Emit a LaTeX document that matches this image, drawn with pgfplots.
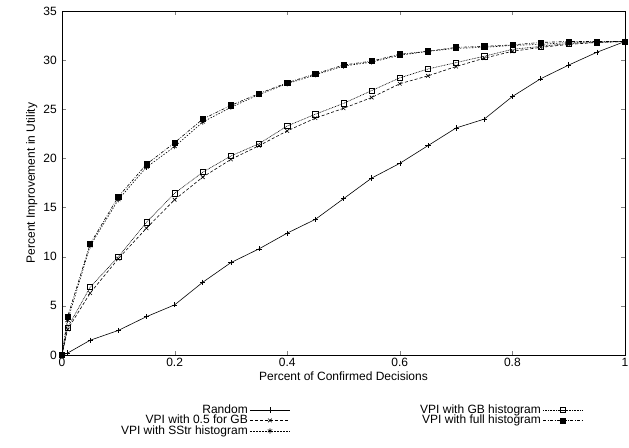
\documentclass[border=0pt]{standalone}
\usepackage{fontspec}
\setmainfont{Liberation Sans}
\usepackage{pgfplots}
\pgfplotsset{compat=1.18}
\usetikzlibrary{plotmarks}
\begin{document}
\fontsize{12}{14}\selectfont
\begin{tikzpicture}
\path[use as bounding box] (-62pt,-92pt) rectangle (567pt,355pt);
\begin{axis}[
  at={(0,0)}, anchor=south west,
  scale only axis, width=563pt, height=344pt,
  xmin=0, xmax=1, ymin=0, ymax=35,
  xtick={0,0.2,0.4,0.6,0.8,1},
  ytick={0,5,...,35},
  tick align=inside,
  major tick length=4pt,
  minor tick num=0,
  axis line style={line width=0.8pt},
  /pgf/number format/assume math mode=true,
  tick label style={font=\fontsize{12}{14}\selectfont},
  label style={font=\fontsize{12}{14}\selectfont},
  xticklabel style={yshift=1pt},
  yticklabel style={xshift=-1pt},
  xlabel={Percent of Confirmed Decisions},
  ylabel={Percent Improvement in Utility},
  xlabel style={yshift=3pt},
  ylabel style={yshift=-2pt},
  every axis plot/.append style={line width=0.6pt, black},
  legend columns=2,
  legend plot pos=right,
  legend cell align=right,
  legend style={draw=none, fill=none, at={(0.101,-0.138)}, anchor=north west,
    inner sep=0pt,
    font=\fontsize{12}{14}\selectfont,
    row sep=-4pt,
    /tikz/every even column/.append style={column sep=128pt},
    cells={anchor=east}},
  legend image code/.code={%
    \draw[mark repeat=2,mark phase=2] plot coordinates {(0cm,0cm) (0.7cm,0cm) (1.4cm,0cm)};},
]
% Random
\addplot[solid, mark=+, mark size=2.6pt, mark options={solid}] table {
x y
0 0
0.01 0.2
0.05 1.5
0.1 2.5
0.15 3.9
0.2 5.1
0.25 7.4
0.3 9.4
0.35 10.8
0.4 12.4
0.45 13.8
0.5 15.9
0.55 18.0
0.6 19.5
0.65 21.3
0.7 23.1
0.75 24.0
0.8 26.3
0.85 28.1
0.9 29.5
0.95 30.8
1 31.9
};
\addlegendentry{Random}
% GB histogram
\addplot[dash pattern=on 0.8pt off 0.8pt, mark=square, mark size=2.6pt, mark options={solid}] table {
x y
0 0
0.01 2.8
0.05 6.9
0.1 10.0
0.15 13.5
0.2 16.45
0.25 18.6
0.3 20.25
0.35 21.5
0.4 23.3
0.45 24.5
0.5 25.6
0.55 26.9
0.6 28.2
0.65 29.1
0.7 29.75
0.75 30.4
0.8 31.1
0.85 31.4
0.9 31.7
0.95 31.8
1 31.9
};
\addlegendentry{VPI with GB histogram}
% 0.5 for GB
\addplot[dash pattern=on 3pt off 2pt, mark=x, mark size=2.6pt, mark options={solid}] table {
x y
0 0
0.01 2.6
0.05 6.3
0.1 9.8
0.15 12.9
0.2 15.8
0.25 18.1
0.3 19.9
0.35 21.3
0.4 22.8
0.45 24.1
0.5 25.1
0.55 26.2
0.6 27.6
0.65 28.4
0.7 29.35
0.75 30.2
0.8 30.9
0.85 31.3
0.9 31.6
0.95 31.8
1 31.9
};
\addlegendentry{VPI with 0.5 for GB}
% full histogram
\addplot[dash pattern=on 3pt off 1.5pt on 0.8pt off 1.5pt, mark=square*, mark size=2.6pt, mark options={solid}] table {
x y
0 0
0.01 3.9
0.05 11.3
0.1 16.1
0.15 19.4
0.2 21.6
0.25 24.0
0.3 25.4
0.35 26.6
0.4 27.7
0.45 28.6
0.5 29.5
0.55 29.9
0.6 30.6
0.65 30.9
0.7 31.3
0.75 31.4
0.8 31.55
0.85 31.8
0.9 31.9
0.95 31.9
1 31.9
};
\addlegendentry{VPI with full histogram}
% SSTr histogram
\addplot[dash pattern=on 1.5pt off 1.5pt, mark=asterisk, mark size=2.6pt, mark options={solid}] table {
x y
0 0
0.01 3.5
0.05 11.1
0.1 15.8
0.15 19.1
0.2 21.2
0.25 23.7
0.3 25.2
0.35 26.5
0.4 27.6
0.45 28.5
0.5 29.4
0.55 29.8
0.6 30.5
0.65 30.9
0.7 31.2
0.75 31.3
0.8 31.5
0.85 31.6
0.9 31.8
0.95 31.85
1 31.9
};
\addlegendentry{VPI with SStr histogram}
\end{axis}
\end{tikzpicture}
\end{document}
